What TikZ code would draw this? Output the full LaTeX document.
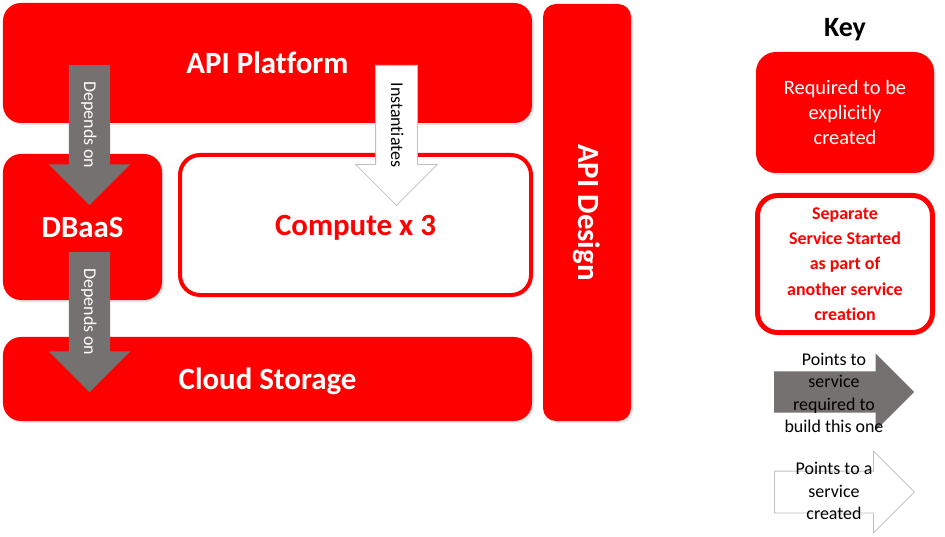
\documentclass[tikz,border=0pt]{standalone}
\usepackage{fontspec}
\setmainfont[Ligatures=NoCommon]{Carlito}
\usetikzlibrary{shapes.arrows,shadows}

\definecolor{boxred}{RGB}{255,0,0}
\definecolor{arrowgrey}{RGB}{118,113,113}
\definecolor{edgegrey}{RGB}{191,191,191}

\tikzset{
  service/.style={rounded corners=18bp, fill=boxred, text=white,
    drop shadow={shadow xshift=2bp, shadow yshift=-2bp, opacity=0.2}},
  started/.style={rounded corners=20bp, draw=boxred, line width=4bp, fill=white, text=boxred,
    drop shadow={shadow xshift=2bp, shadow yshift=-2bp, opacity=0.2}},
  bigname/.style={font=\bfseries\fontsize{31}{36}\selectfont, text depth=0pt},
  blockarrow/.style={single arrow, minimum height=140bp, single arrow head extend=20bp,
    inner sep=0pt, text height=26bp, text depth=15bp, font=\fontsize{18}{20}\selectfont},
  needs/.style={blockarrow, fill=arrowgrey, text=white},
  creates/.style={blockarrow, fill=white, draw=edgegrey, line width=0.8bp, text=black},
  legend/.style={align=center, font=\fontsize{18}{22.5}\selectfont}
}

\begin{document}
\begin{tikzpicture}[x=1bp,y=-1bp]

  \useasboundingbox (0,0) rectangle (945,537);

  % services
  \node[service, bigname, minimum width=529bp, minimum height=120bp] (platform) at (267.5,63) {API Platform};
  \node[service, bigname, minimum width=159bp, minimum height=146bp] (dbaas) at (82.5,227) {DBaaS};
  \node[started, bigname, minimum width=351bp, minimum height=140bp] (compute) at (355.5,225) {Compute x 3};
  \node[service, bigname, minimum width=529bp, minimum height=84bp] (storage) at (267.5,379) {Cloud Storage};
  \node[service, rounded corners=13bp, minimum width=88bp, minimum height=417bp,
    font=\bfseries\fontsize{31}{36}\selectfont] (design) at (587,212.5) {\rotatebox{-90}{API Design}};

  % dependencies
  \node[needs, rotate=-90, anchor=tail] (platformdbaas) at (89.5,65) {Depends on};
  \node[needs, rotate=-90, anchor=tail] (dbaasstorage) at (89.5,252) {Depends on};
  \node[creates, rotate=-90, anchor=tail] (platformcompute) at (396.5,65) {Instantiates};

  % key
  \node[font=\bfseries\fontsize{28}{32}\selectfont] (key) at (845,30) {Key};
  \node[service, rounded corners=20bp, minimum width=178bp, minimum height=121bp, align=center,
    font=\fontsize{20.5}{25}\selectfont] (keyservice) at (845,112.5) {Required to be\\explicitly\\created};
  \node[started, line width=5bp, minimum width=175bp, minimum height=137bp, align=center,
    font=\bfseries\fontsize{18}{25.3}\selectfont] (keystarted) at (845,264) {Separate\\Service Started\\as part of\\another service\\creation};
  \node[needs, anchor=tail, single arrow head extend=18bp] (keyneeds) at (774,392) {};
  \node[legend] (keyneedstext) at (834,393) {Points to\\service\\required to\\build this one};
  \node[creates, anchor=tail] (keycreates) at (774,492) {};
  \node[legend] (keycreatestext) at (834,491) {Points to a\\service\\created};

\end{tikzpicture}
\end{document}
